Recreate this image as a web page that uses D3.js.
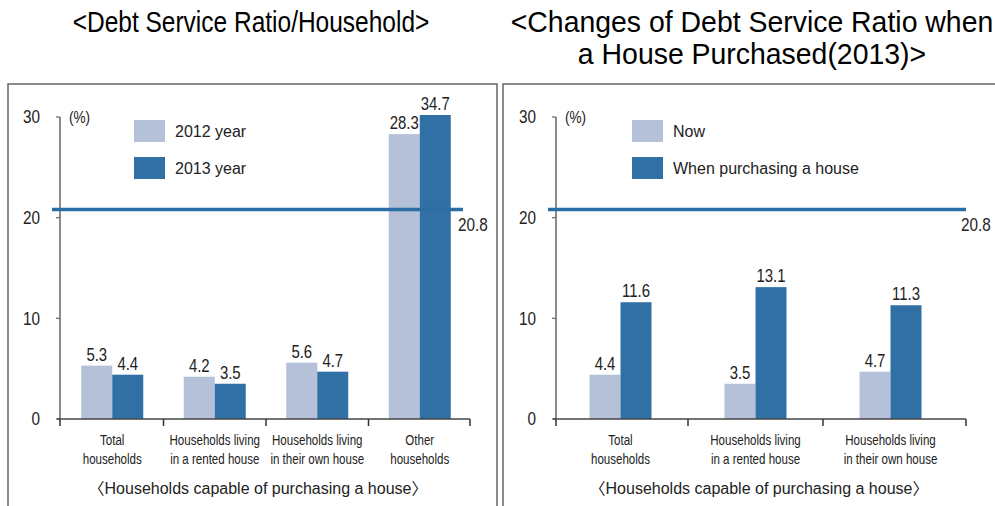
<!DOCTYPE html>
<html>
<head>
<meta charset="utf-8">
<script src="https://cdn.jsdelivr.net/npm/d3@7"></script>
<style>
  body { margin: 0; background: #fff; }
  svg { display: block; }
</style>
</head>
<body>
<div id="chart"></div>
<script>
(function() {
  // data
  var leftCategories = [["Total", "households"], ["Households living", "in a rented house"],
                        ["Households living", "in their own house"], ["Other", "households"]];
  var left2012 = [5.3, 4.2, 5.6, 28.3];
  var left2013 = [4.4, 3.5, 4.7, 34.7];
  var leftLegend = ["2012 year", "2013 year"];

  var rightCategories = [["Total", "households"], ["Households living", "in a rented house"],
                         ["Households living", "in their own house"]];
  var rightNow = [4.4, 3.5, 4.7];
  var rightPurchase = [11.6, 13.1, 11.3];
  var rightLegend = ["Now", "When purchasing a house"];

  var refValue = 20.8;
  var yTicks = [0, 10, 20, 30];
  var xTitle = "\u3008Households capable of purchasing a house\u3009";

  var colors = ["#b4c1d9", "#3070a5"];
  var font = "'Liberation Sans', Arial, 'Noto Sans CJK KR', sans-serif";

  var svg = d3.select("#chart").append("svg")
    .attr("width", 995)
    .attr("height", 506);

  // condensed text: no narrow font here, so squeeze it horizontally
  function squeeze(sel, x, y, f) {
    return sel.attr("transform", "translate(" + x + "," + y + ") scale(" + f + ",1)");
  }

  function title(x, y, str, f) {
    squeeze(svg.append("text"), x, y, f)
      .attr("text-anchor", "middle").style("font-family", font).style("font-size", "29px")
      .text(str);
  }
  title(251, 32, "<Debt Service Ratio/Household>", 0.845);
  title(752, 32, "<Changes of Debt Service Ratio when", 0.98);
  title(752, 64, "a House Purchased(2013)>", 0.98);

  function drawPanel(p) {
    var g = svg.append("g");

    g.append("rect")
      .attr("x", p.frameX).attr("y", 84)
      .attr("width", p.frameW).attr("height", 440)
      .attr("fill", "none").attr("stroke", "#666").attr("stroke-width", 1.5);

    var x = d3.scaleBand()
      .domain(d3.range(p.categories.length))
      .range(p.band);

    var y = d3.scaleLinear()
      .domain([0, 30.2])
      .range([419, 115])
      .clamp(true);

    // y axis
    g.append("line")
      .attr("x1", p.x0).attr("x2", p.x0)
      .attr("y1", y(30)).attr("y2", y(0))
      .attr("stroke", "#666").attr("stroke-width", 1.5);
    g.selectAll(".ytick").data(yTicks).enter().append("line")
      .attr("x1", p.x0 - 4).attr("x2", p.x0)
      .attr("y1", function(d) { return y(d); })
      .attr("y2", function(d) { return y(d); })
      .attr("stroke", "#666").attr("stroke-width", 1.2);
    g.selectAll(".ylab").data(yTicks).enter().append("text")
      .each(function(d) { squeeze(d3.select(this), p.x0 - 20, y(d), 0.85); })
      .attr("dy", "0.35em")
      .attr("text-anchor", "end")
      .style("font-family", font).style("font-size", "18px").attr("fill", "#222")
      .text(function(d) { return d; });
    squeeze(g.append("text"), p.x0 + 9, y(30), 0.85)
      .attr("dy", "0.35em")
      .style("font-family", font).style("font-size", "16px").attr("fill", "#222")
      .text("(%)");

    // bars
    var bw = 31;
    var series = [p.a, p.b];
    series.forEach(function(vals, s) {
      g.selectAll(".bar" + s).data(vals).enter().append("rect")
        .attr("x", function(d, i) { return x(i) + x.bandwidth() / 2 - bw + s * bw; })
        .attr("y", function(d) { return y(d); })
        .attr("width", bw)
        .attr("height", function(d) { return y(0) - y(d); })
        .attr("fill", colors[s]);
      g.selectAll(".val" + s).data(vals).enter().append("text")
        .each(function(d, i) {
          squeeze(d3.select(this), x(i) + x.bandwidth() / 2 - bw / 2 + s * bw, y(d) - 5, 0.83);
        })
        .attr("text-anchor", "middle")
        .style("font-family", font).style("font-size", "18px").attr("fill", "#222")
        .text(function(d) { return d.toFixed(1); });
    });

    // x axis
    g.append("line")
      .attr("x1", p.x0 - 3).attr("x2", p.x1)
      .attr("y1", y(0)).attr("y2", y(0))
      .attr("stroke", "#444").attr("stroke-width", 1.5);
    var sep = [p.x0].concat(d3.range(1, p.categories.length).map(function(i) { return x(i); }), [p.x1]);
    g.selectAll(".xtick").data(sep).enter().append("line")
      .attr("x1", function(d) { return d; })
      .attr("x2", function(d) { return d; })
      .attr("y1", y(0)).attr("y2", y(0) + 7)
      .attr("stroke", "#333").attr("stroke-width", 1.5);

    var labels = g.selectAll(".xlab").data(p.categories).enter().append("text")
      .each(function(d, i) { squeeze(d3.select(this), x(i) + x.bandwidth() / 2, 445, 0.77); })
      .attr("text-anchor", "middle")
      .style("font-family", font).style("font-size", "15px").attr("fill", "#222");
    labels.selectAll("tspan").data(function(d) { return d; }).enter().append("tspan")
      .attr("x", 0)
      .attr("dy", function(d, i) { return i === 0 ? 0 : 19; })
      .text(function(d) { return d; });

    g.append("text")
      .attr("x", p.titleX).attr("y", 494)
      .attr("text-anchor", "middle")
      .style("font-family", font).style("font-size", "16px").attr("fill", "#222")
      .text(xTitle);

    // reference line
    g.append("line")
      .attr("x1", p.refX0).attr("x2", p.refX1)
      .attr("y1", y(refValue)).attr("y2", y(refValue))
      .attr("stroke", "#2a6ea3").attr("stroke-width", 3.5);
    squeeze(g.append("text"), p.refX1 - 5, y(refValue) + 15, 0.85)
      .attr("dy", "0.35em")
      .style("font-family", font).style("font-size", "18px").attr("fill", "#222")
      .text(refValue.toFixed(1));

    // legend
    p.legend.forEach(function(name, i) {
      g.append("rect")
        .attr("x", p.legendX).attr("y", 120 + i * 37)
        .attr("width", 31).attr("height", 22)
        .attr("fill", colors[i]);
      g.append("text")
        .attr("x", p.legendX + 41).attr("y", 131 + i * 37).attr("dy", "0.35em")
        .style("font-family", font).style("font-size", "16px").attr("fill", "#222")
        .text(name);
    });
  }

  drawPanel({
    frameX: 8, frameW: 489, x0: 60, x1: 470, band: [61, 471],
    categories: leftCategories, a: left2012, b: left2013, legend: leftLegend,
    legendX: 134, refX0: 52, refX1: 463, titleX: 258
  });
  drawPanel({
    frameX: 503, frameW: 500, x0: 556, x1: 966, band: [553, 958],
    categories: rightCategories, a: rightNow, b: rightPurchase, legend: rightLegend,
    legendX: 632, refX0: 548, refX1: 966, titleX: 759
  });
})();
</script>
</body>
</html>
